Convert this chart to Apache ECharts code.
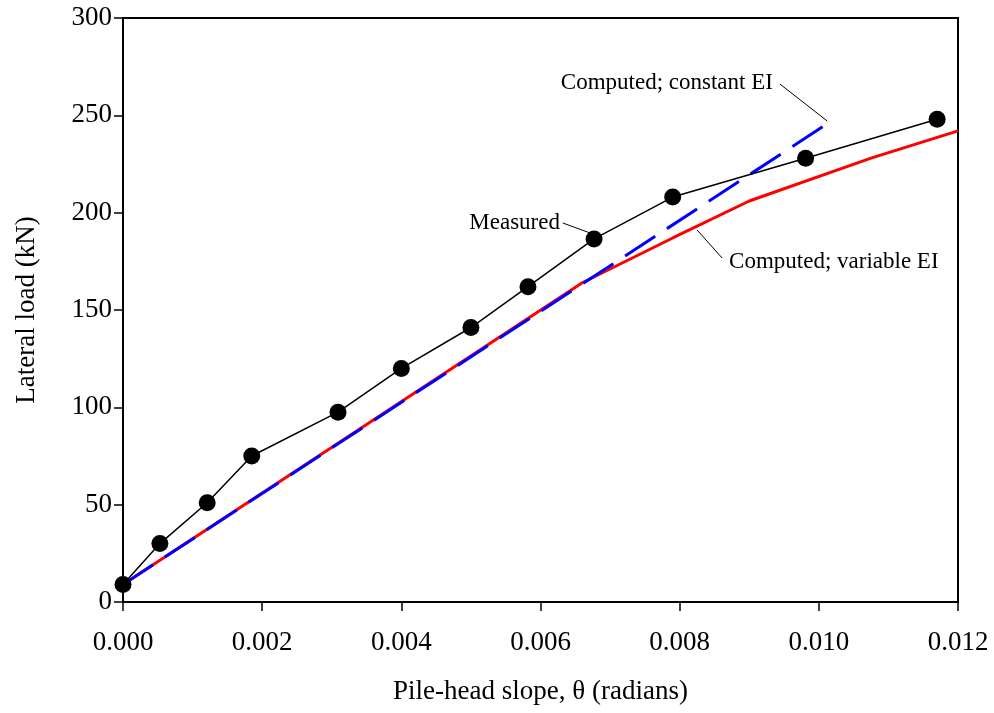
<!DOCTYPE html>
<html>
<head>
<meta charset="utf-8">
<script src="https://cdn.jsdelivr.net/npm/echarts@6/dist/echarts.min.js"></script>
<style>
html,body{margin:0;padding:0;background:#fff;}
#chart{width:994px;height:713px;}
</style>
</head>
<body>
<div id="chart"></div>
<script>
// ---- data ----
const measuredX = [0.0000, 0.00053, 0.00121, 0.00185, 0.00309, 0.00400, 0.00500, 0.00582, 0.00677, 0.00790, 0.00981, 0.01170];
const measuredY = [9, 30, 51, 75, 97.5, 120, 141, 162, 186.5, 208, 228, 248];
const variableX = [0.0000, 0.0066, 0.0079, 0.0090, 0.01075, 0.0120];
const variableY = [9, 164, 187, 206, 228, 242];
const constantX = [0.0000, 0.01022];
const constantY = [9, 248];
const xTicks = [0.000, 0.002, 0.004, 0.006, 0.008, 0.010, 0.012];
const yTicks = [0, 50, 100, 150, 200, 250, 300];
const xTitle = 'Pile-head slope, \u03b8 (radians)';
const yTitle = 'Lateral load (kN)';
// annotations in data coordinates
const annMeasured = {text: 'Measured', at: [0.00628, 194.7], from: [0.00632, 194.7], to: [0.00671, 189.6], align: 'right'};
const annConstant = {text: 'Computed; constant EI', at: [0.00934, 266.6], from: [0.00944, 266.1], to: [0.01012, 247.1], align: 'right'};
const annVariable = {text: 'Computed; variable EI', at: [0.00871, 174.7], from: [0.00861, 176.7], to: [0.00825, 191.1], align: 'left'};

const zip = (xs, ys) => xs.map((x, i) => [x, ys[i]]);
const FONT = 'Liberation Serif';

const chart = echarts.init(document.getElementById('chart'));
const option = {
  animation: false,
  backgroundColor: '#fff',
  grid: {left: 123, right: 36, top: 18, bottom: 111, show: true, borderColor: '#000', borderWidth: 2},
  xAxis: {
    type: 'value', min: xTicks[0], max: xTicks[xTicks.length - 1], interval: 0.002,
    name: xTitle, nameLocation: 'middle', nameGap: 76,
    nameTextStyle: {fontFamily: FONT, fontSize: 27, color: '#000'},
    axisLine: {lineStyle: {color: '#000', width: 2}},
    axisTick: {inside: false, length: 9, lineStyle: {color: '#000', width: 1.5}},
    axisLabel: {margin: 27, fontFamily: FONT, fontSize: 27, color: '#000', formatter: v => v.toFixed(3)},
    splitLine: {show: false}
  },
  yAxis: {
    type: 'value', min: yTicks[0], max: yTicks[yTicks.length - 1], interval: 50,
    name: yTitle, nameLocation: 'middle', nameGap: 83,
    nameTextStyle: {fontFamily: FONT, fontSize: 27, color: '#000'},
    axisLine: {lineStyle: {color: '#000', width: 2}},
    axisTick: {inside: false, length: 9, lineStyle: {color: '#000', width: 1.5}},
    axisLabel: {margin: 11, fontFamily: FONT, fontSize: 27, color: '#000'},
    splitLine: {show: false}
  },
  series: [
    {
      name: 'Computed; variable EI', type: 'line', data: zip(variableX, variableY),
      showSymbol: false, symbol: 'none', lineStyle: {color: '#ff0000', width: 3}, z: 2
    },
    {
      name: 'Computed; constant EI', type: 'line', data: zip(constantX, constantY),
      showSymbol: false, symbol: 'none', lineStyle: {color: '#0000ff', width: 3, type: [36, 14]}, z: 3
    },
    {
      name: 'Measured', type: 'line', data: zip(measuredX, measuredY),
      symbol: 'circle', symbolSize: 17, itemStyle: {color: '#000'},
      lineStyle: {color: '#000', width: 1.5}, z: 4
    }
  ]
};
chart.setOption(option);

function addAnnotations() {
  const els = [];
  [annMeasured, annConstant, annVariable].forEach(a => {
    const p = chart.convertToPixel({gridIndex: 0}, a.at);
    const f = chart.convertToPixel({gridIndex: 0}, a.from);
    const t = chart.convertToPixel({gridIndex: 0}, a.to);
    els.push({type: 'text', x: p[0], y: p[1], z: 10,
      style: {text: a.text, fontFamily: FONT, fontSize: 23, fill: '#000', align: a.align, verticalAlign: 'middle'}});
    els.push({type: 'line', z: 10, shape: {x1: f[0], y1: f[1], x2: t[0], y2: t[1]},
      style: {stroke: '#000', lineWidth: 1}});
  });
  chart.setOption({graphic: els});
}
addAnnotations();
</script>
</body>
</html>
